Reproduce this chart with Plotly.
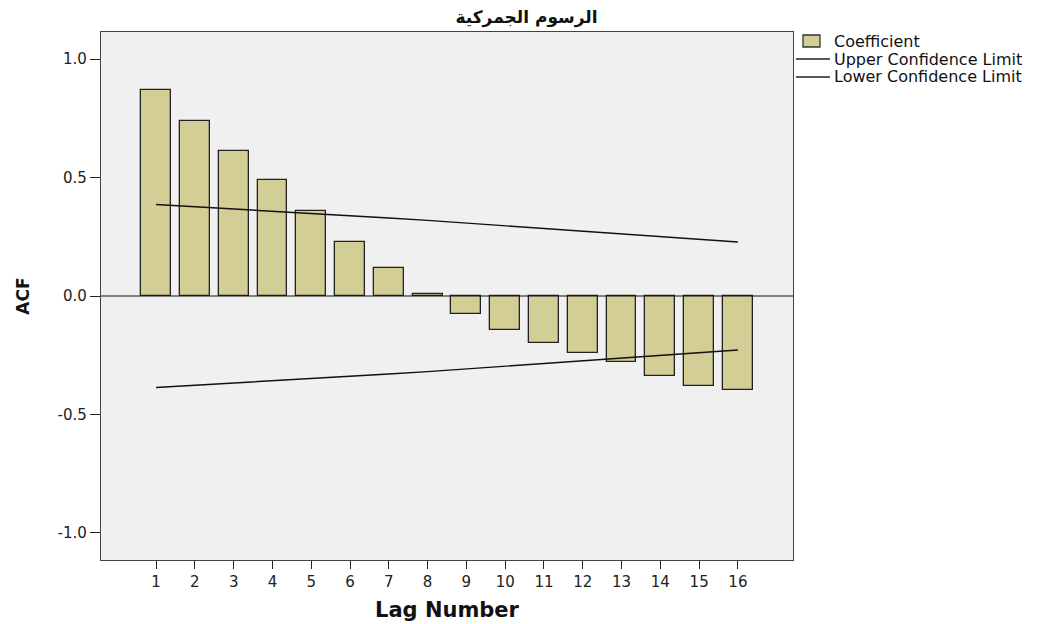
import plotly.graph_objects as go

lags = list(range(1, 17))
acf = [0.869, 0.738, 0.612, 0.489, 0.359, 0.228, 0.118, 0.008,
       -0.076, -0.143, -0.198, -0.241, -0.278, -0.338, -0.380, -0.397]
upper = [0.386, 0.377, 0.368, 0.358, 0.349, 0.339, 0.329, 0.319,
         0.308, 0.297, 0.286, 0.274, 0.262, 0.250, 0.239, 0.228]
lower = [-v for v in upper]
title_text = "الرسوم الجمركية"
legend_names = ["Coefficient", "Upper Confidence Limit", "Lower Confidence Limit"]
yticks = [-1.0, -0.5, 0.0, 0.5, 1.0]
ytick_labels = ["-1.0", "-0.5", "0.0", "0.5", "1.0"]

BAR_COLOR = "#d3cd96"
W, H = 1037, 616
L, R, T, B = 93, 252, 24, 64
PW, PH = W - L - R, H - T - B


def px(fx):
    return (fx - L) / PW


def py(fy):
    return 1 - (fy - T) / PH


fig = go.Figure()
fig.add_trace(go.Bar(x=lags, y=acf, name=legend_names[0], width=0.77,
                     marker=dict(color=BAR_COLOR, line=dict(color="#222222", width=1.3))))
fig.add_trace(go.Scatter(x=lags, y=upper, mode="lines", name=legend_names[1],
                         line=dict(color="#111111", width=1.4)))
fig.add_trace(go.Scatter(x=lags, y=lower, mode="lines", name=legend_names[2],
                         line=dict(color="#111111", width=1.4)))

fig.add_shape(type="line", xref="paper", x0=0, x1=1, yref="y", y0=0, y1=0,
              line=dict(color="#111111", width=1.2), layer="above")

# manual legend (SPSS style)
fig.add_shape(type="rect", xref="paper", yref="paper", x0=px(795), x1=px(812), y0=py(39), y1=py(27),
              fillcolor=BAR_COLOR, line=dict(color="#333333", width=1.3))
for fy in (51, 69):
    fig.add_shape(type="line", xref="paper", yref="paper", x0=px(788), x1=px(822), y0=py(fy), y1=py(fy),
                  line=dict(color="#222222", width=1.3))
for name, fy in zip(legend_names, (33, 51, 69)):
    fig.add_annotation(text=name, xref="paper", yref="paper", x=px(824), y=py(fy),
                       xanchor="left", yanchor="middle", showarrow=False,
                       font=dict(family="DejaVu Sans", size=16, color="#111111"))

fig.update_layout(
    width=W, height=H,
    margin=dict(l=L, r=R, t=T, b=B, autoexpand=False),
    paper_bgcolor="white", plot_bgcolor="#f0f0f0",
    font=dict(family="DejaVu Sans, sans-serif", size=15, color="#222222"),
    title=dict(text="<b>" + title_text + "</b>", x=0.5, xref="container", xanchor="center",
               y=0.9854, yref="container", yanchor="middle",
               font=dict(family="DejaVu Sans", size=17, color="#111111")),
    showlegend=False,
    bargap=0,
    xaxis=dict(range=[-0.42, 17.42], tickmode="array", tickvals=lags,
               ticktext=[str(v) for v in lags], ticks="outside", ticklen=8,
               tickcolor="#222222", showgrid=False, zeroline=False, showline=True,
               tickfont=dict(family="DejaVu Sans", size=15, color="#222222"),
               linecolor="#444444", linewidth=1.2, mirror=True, automargin=False,
               title=dict(text="<b>Lag Number</b>", font=dict(family="DejaVu Sans", size=21, color="#111111"),
                          standoff=12)),
    yaxis=dict(range=[-1.114, 1.114], tickmode="array", tickvals=yticks, ticktext=ytick_labels,
               ticks="outside", ticklen=10, tickcolor="#222222", showgrid=False, zeroline=False,
               tickfont=dict(family="DejaVu Sans", size=15, color="#222222"),
               showline=True, linecolor="#444444", linewidth=1.2, mirror=True, automargin=False,
               title=dict(text="<b>ACF</b>", font=dict(family="DejaVu Sans", size=17, color="#111111"),
                          standoff=23)),
)

fig.write_html("out.html")
